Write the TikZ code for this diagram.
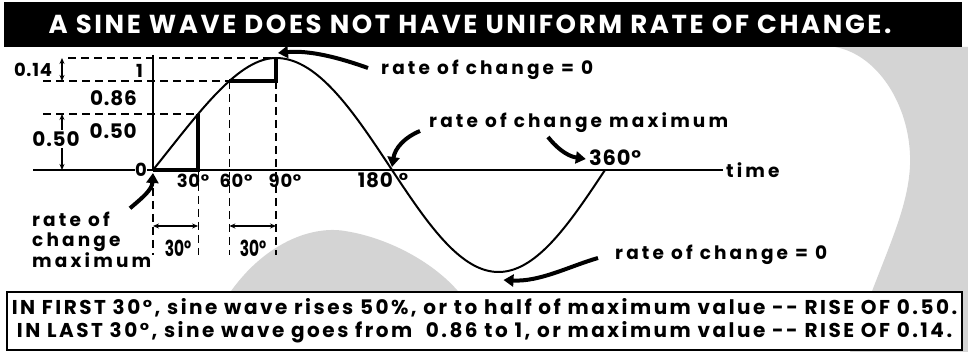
\documentclass[tikz,border=0pt]{standalone}
\usepackage{fontspec}
\usetikzlibrary{arrows.meta, calc}
\newfontfamily\titlefont{Poppins}[LetterSpace=10]
\newfontfamily\notefont{Poppins}[LetterSpace=17]
\newfontfamily\valfont{Poppins}[LetterSpace=4]
\newfontfamily\narrowfont{Poppins}[FakeStretch=0.7]
\newfontfamily\boxfont{Poppins}[LetterSpace=12.5]

\begin{document}
\begin{tikzpicture}[x=1pt, y=-1pt,
  stipple/.style={fill=black!17},
  heading/.style={text=white, inner sep=0pt, font=\titlefont\bfseries\fontsize{26}{28}\selectfont},
  note/.style={inner sep=1pt, font=\notefont\bfseries\fontsize{18.5}{19.5}\selectfont},
  val/.style={inner sep=1pt, font=\valfont\bfseries\fontsize{#1}{#1}\selectfont},
  val/.default=18,
  narrowval/.style={inner sep=1pt, font=\narrowfont\bfseries\fontsize{22}{22}\selectfont},
  wave/.style={line width=2pt, line join=round},
  guide/.style={line width=1.2pt, dash pattern=on 8pt off 5pt},
  stepline/.style={line width=4.5pt},
  fatarrow/.style={line width=4pt, -{Triangle[length=10pt,width=12pt]}},
  dimarrow/.style={line width=1.1pt, {Stealth[length=6pt,width=5pt]}-{Stealth[length=6pt,width=5pt]}}]
\useasboundingbox (0,0) rectangle (968,352);

% shaded background
\fill[stipple] (835,47) .. controls (880,55) and (912,110) .. (910,165)
  .. controls (908,215) and (880,262) .. (850,352) -- (968,352) -- (968,47) -- cycle;
\fill[stipple] (225,300) .. controls (260,245) and (310,225) .. (345,231)
  .. controls (390,238) and (440,265) .. (465,300) -- cycle;

% title bar
\fill[black] (4,2) rectangle (962,47);
\node[heading] (title) at (470,24.5) {A SINE WAVE DOES NOT HAVE UNIFORM RATE OF CHANGE.};

% points on the wave
\coordinate (o) at (153,170);
\coordinate (p30) at (198.1,114);
\coordinate (p60) at (229.4,81);
\coordinate (peak) at (276,58);
\coordinate (z180) at (392,170);
\coordinate (trough) at (499.5,272);
\coordinate (z360) at (605,170);

% guide lines
\draw[guide] (68,58) -- (peak);
\draw[guide] (43,81) -- (p60);
\draw[guide] (43,114) -- (p30);
\draw[guide] (p60) -- (229.4,255);
\draw[guide] (276,81) -- (276,255);
\draw[guide] (198.1,170) -- (198.1,255);
\draw[guide] (153,188) -- (153,255);

% axes
\draw[line width=2pt] (33,170) -- (723,170) coordinate (tend);
\draw[line width=1.5pt] (153,55) -- (o);
\node[note, anchor=west] (time) at ($(tend)+(2,0)$) {time};
\node[val, fill=white, inner sep=0.5pt] (zero) at (141,170) {0};

% the wave
\draw[wave] plot[domain=0:90, samples=50] ({153+123*(\x/90+0.15*(\x/90)*(1-\x/90))},{170-112*sin(\x)})
  -- plot[domain=90:180, samples=40] ({276+(\x-90)*1.2889},{170-112*sin(\x)})
  -- plot[domain=180:360, samples=80] ({392+(\x-180)*1.1833},{170-102*sin(\x)});

% rise steps
\draw[stepline] (o) -| (p30);
\draw[stepline] (p60) -| (peak);

% values
\node[val, anchor=east] (one) at (144,71) {1};
\node[val=20, anchor=east] (v86) at (138,98) {0.86};
\node[val=20, anchor=east] (v50) at (138,131) {0.50};
\node[val] (d14) at (33,70) {0.14};
\draw[dimarrow] (62,58) -- (62,81);
\draw[dimarrow] (62,114) -- (62,170);
\node[val=20, fill=white] (d50) at (56,139) {0.50};

% degrees
\node[val] (a30) at (193,181) {30°};
\node[val] (a60) at (236,181) {60°};
\node[val] (a90) at (285,181) {90°};
\node[val=20] (a180) at (383,180) {180\hspace{6pt}°};
\node[val=21] (a360) at (615,158) {360°};

% 30 degree spans
\draw[dimarrow] (153,226) -- (198.1,226);
\draw[dimarrow] (229.4,226) -- (276,226);
\node[narrowval] (s1) at (178,248) {30°};
\node[narrowval] (s2) at (253,248) {30°};

% notes
\node[note, anchor=west] (rcz) at (380,70) {rate of change = 0};
\node[note, anchor=west] (rcmax) at (428,123) {rate of change maximum};
\node[note, anchor=west, align=left] (rcleft) at (31,240) {rate of\\change\\maximum};
\node[note, anchor=west] (rcmin) at (614,255) {rate of change = 0};

\draw[fatarrow] ($(rcz.west)+(-12,-2)$) .. controls (340,58) and (310,50) .. ($(peak)+(2,-5)$);
\draw[fatarrow] ($(rcmax.west)+(-8,8)$) .. controls (405,137) and (395,148) .. ($(z180)+(0,-3)$);
\draw[fatarrow] ($(rcmax.west)+(120,14)$) .. controls (555,146) and (566,156) .. ($(a360.west)+(-2,1)$);
\draw[fatarrow] ($(rcleft.north west)+(99,-3)$) .. controls (142,198) and (152,190) .. ($(o)+(0,3)$);
\draw[fatarrow] ($(rcmin.west)+(-16,3)$) .. controls (570,266) and (540,282) .. ($(trough)+(4,8)$);

% summary box
\node[draw, line width=1.5pt, fill=white, minimum width=955pt, minimum height=58pt,
  align=center, inner sep=0pt, font=\boxfont\bfseries\fontsize{20}{23}\selectfont]
  (summary) at (484.5,321)
  {IN FIRST 30°, sine wave rises 50\%, or to half of maximum value -{}- RISE OF 0.50.\\
   IN LAST 30°, sine wave goes from\ \ 0.86 to 1, or maximum value -{}- RISE OF 0.14.};
\end{tikzpicture}
\end{document}
